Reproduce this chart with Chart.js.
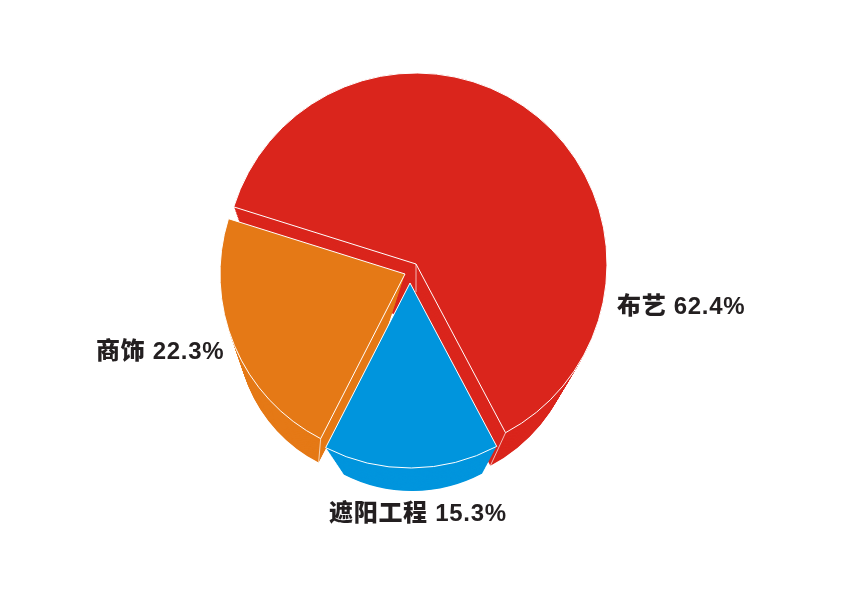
<!DOCTYPE html>
<html>
<head>
<meta charset="utf-8">
<style>
  html, body { margin: 0; padding: 0; background: #fff; }
  canvas { display: block; }
</style>
<script src="https://cdn.jsdelivr.net/npm/chart.js@4/dist/chart.umd.min.js"></script>
</head>
<body>
<canvas id="mycanvas" width="841" height="595"></canvas>
<script>
var categories = ['布艺', '遮阳工程', '商饰'];
var shares = [62.4, 15.3, 22.3];

var colors = ['#da251c', '#0095dd', '#e57916'];
var labelSpots = [[617, 314], [329, 521], [96, 359]];

// where each slice sits: top face and the far end of its extrusion
var topFace = [{ x: 416, y: 264, r: 191 }, { x: 410, y: 283, r: 185 }, { x: 405, y: 274, r: 185 }];
var bottomFace = [{ x: 413, y: 320, r: 165 }, { x: 412, y: 341, r: 150 }, { x: 387, y: 329, r: 150 }];
var layerCount = 40;

// dataset 0 is painted last, so it is the top face
var datasets = [];
for (var n = 0; n < layerCount; n++) {
    datasets.push({
        data: shares,
        backgroundColor: colors,
        borderColor: n === 0 ? '#fff' : colors,
        borderWidth: n === 0 ? 1 : 0
    });
}

function rimPoint(face, angle) {
    return [face.x + Math.cos(angle) * face.r, face.y + Math.sin(angle) * face.r];
}

var extrude = {
    id: 'extrude',
    afterDatasetsUpdate: function(chart) {
        chart.data.datasets.forEach(function(ds, n) {
            var t = n / (layerCount - 1);
            chart.getDatasetMeta(n).data.forEach(function(arc, i) {
                var a = topFace[i], b = bottomFace[i];
                arc.x = a.x + (b.x - a.x) * t;
                arc.y = a.y + (b.y - a.y) * t;
                arc.innerRadius = 0;
                arc.outerRadius = a.r + (b.r - a.r) * t;
            });
        });
    },
    afterDraw: function(chart) {
        var ctx = chart.ctx;
        var arcs = chart.getDatasetMeta(0).data;

        // thin white edges of the walls
        var redEnd = arcs[0].endAngle, orangeStart = arcs[2].startAngle;
        var p = rimPoint(topFace[0], redEnd), q = rimPoint(bottomFace[0], redEnd);
        var u = rimPoint(topFace[2], orangeStart), v = rimPoint(bottomFace[2], orangeStart);
        ctx.save();
        ctx.strokeStyle = 'rgba(255,255,255,0.85)';
        ctx.lineWidth = 0.8;
        ctx.beginPath();
        ctx.moveTo(p[0], p[1]);
        ctx.lineTo(q[0], q[1]);
        ctx.moveTo(u[0], u[1]);
        ctx.lineTo(v[0], v[1]);
        ctx.moveTo(topFace[0].x, topFace[0].y);
        ctx.lineTo(topFace[0].x, topFace[0].y + (bottomFace[0].y - topFace[0].y) * 0.5);
        ctx.stroke();
        ctx.restore();

        ctx.save();
        ctx.fillStyle = '#231f20';
        ctx.font = '900 24px "Liberation Sans", "Noto Sans CJK SC", sans-serif';
        ctx.letterSpacing = '0.7px';
        ctx.textBaseline = 'alphabetic';
        categories.forEach(function(name, i) {
            ctx.fillText(name + ' ' + shares[i] + '%', labelSpots[i][0], labelSpots[i][1]);
        });
        ctx.restore();
    }
};

var ctx = document.getElementById('mycanvas');
var pieChart = new Chart(ctx, {
    type: 'pie',
    data: { labels: categories, datasets: datasets },
    options: {
        responsive: false,
        animation: false,
        events: [],
        rotation: 287.4,
        plugins: { legend: { display: false }, tooltip: { enabled: false } }
    },
    plugins: [extrude]
});
</script>
</body>
</html>
